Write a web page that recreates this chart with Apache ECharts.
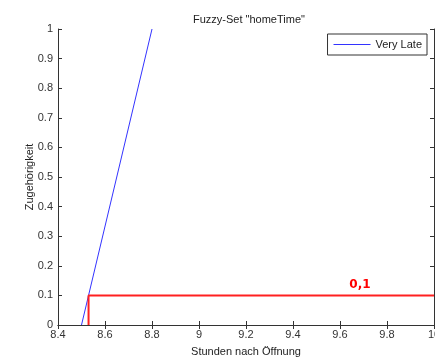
<!DOCTYPE html>
<html>
<head>
    <meta charset="UTF-8">
    <title>Fuzzy-Set homeTime</title>
    <script src="https://cdn.jsdelivr.net/npm/echarts@6/dist/echarts.min.js"></script>
    <style>
        html, body { margin: 0; padding: 0; background: #fff; }
        #chart { width: 435px; height: 358px; }
    </style>
</head>
<body>
<div id="chart"></div>
<script>
    // data
    var veryLate = [[8.5, 0], [8.8, 1]];
    var cutLine = [[8.53, 0], [8.53, 0.1], [10, 0.1]];
    var cutLabelPos = [9.685, 0.1];
    var cutLabelText = '0,1';

    var font = 'Liberation Sans, Arial, sans-serif';
    var axisColor = '#333';
    var blue = '#3333ff';

    function fmt(v) {
        return String(parseFloat(Number(v).toFixed(1)));
    }

    var chart = echarts.init(document.getElementById('chart'));

    var option = {
        animation: false,
        backgroundColor: '#fff',
        textStyle: { fontFamily: font },
        title: {
            text: 'Fuzzy-Set "homeTime"',
            left: 188,
            top: 9,
            textStyle: { fontSize: 11, fontWeight: 'normal', color: '#222', fontFamily: font }
        },
        legend: {
            data: ['Very Late'],
            right: 8,
            top: 34,
            orient: 'vertical',
            backgroundColor: '#fff',
            borderColor: axisColor,
            borderWidth: 1,
            borderRadius: 0,
            padding: [5, 5, 5, 6],
            itemWidth: 37,
            itemHeight: 1,
            itemGap: 4,
            icon: 'rect',
            itemStyle: { color: blue, borderColor: blue, borderWidth: 0, opacity: 1 },
            textStyle: { fontSize: 11, color: '#222', fontFamily: font }
        },
        grid: { left: 58, right: 1, top: 29, bottom: 33, containLabel: false, outerBoundsMode: 'none' },
        xAxis: [{
            type: 'value',
            min: 8.4,
            max: 10,
            interval: 0.2,
            name: 'Stunden nach Öffnung',
            nameLocation: 'middle',
            nameGap: 21,
            nameTextStyle: { fontSize: 11, color: '#222' },
            axisLine: { lineStyle: { color: axisColor } },
            axisTick: { inside: true, length: 4, lineStyle: { color: axisColor } },
            axisLabel: { formatter: fmt, fontSize: 11, color: '#333', margin: 4, hideOverlap: false },
            splitLine: { show: false }
        }, {
            type: 'value',
            position: 'top',
            min: 8.4,
            max: 10,
            interval: 0.2,
            axisLine: { show: true, lineStyle: { color: axisColor } },
            axisTick: { inside: true, length: 4, lineStyle: { color: axisColor } },
            axisLabel: { show: false },
            splitLine: { show: false }
        }],
        yAxis: [{
            type: 'value',
            min: 0,
            max: 1,
            interval: 0.1,
            name: 'Zugehörigkeit',
            nameLocation: 'middle',
            nameGap: 23,
            nameMoveOverlap: false,
            nameTextStyle: { fontSize: 11, color: '#222' },
            axisLine: { show: true, lineStyle: { color: axisColor } },
            axisTick: { show: true, inside: true, length: 4, lineStyle: { color: axisColor } },
            axisLabel: { formatter: fmt, fontSize: 11, color: '#333', margin: 5 },
            splitLine: { show: false }
        }, {
            type: 'value',
            position: 'right',
            min: 0,
            max: 1,
            interval: 0.1,
            axisLine: { show: true, lineStyle: { color: axisColor } },
            axisTick: { show: true, inside: true, length: 4, lineStyle: { color: axisColor } },
            axisLabel: { show: false },
            splitLine: { show: false }
        }],
        series: [{
            name: 'Very Late',
            type: 'line',
            data: veryLate,
            showSymbol: false,
            symbol: 'none',
            color: blue,
            itemStyle: { color: blue },
            lineStyle: { color: blue, width: 1 },
            z: 3
        }, {
            name: 'cut',
            type: 'line',
            data: cutLine,
            showSymbol: false,
            symbol: 'none',
            itemStyle: { color: '#ff0000' },
            lineStyle: { color: '#ff2020', width: 2 },
            z: 4,
            markPoint: {
                symbol: 'circle',
                symbolSize: 0,
                data: [{ coord: cutLabelPos }],
                label: {
                    show: true,
                    formatter: cutLabelText,
                    position: 'top',
                    distance: 5,
                    color: '#ff0000',
                    fontSize: 12,
                    fontWeight: 'bold',
                    fontFamily: 'DejaVu Sans, sans-serif'
                }
            }
        }]
    };

    chart.setOption(option);
</script>
</body>
</html>
